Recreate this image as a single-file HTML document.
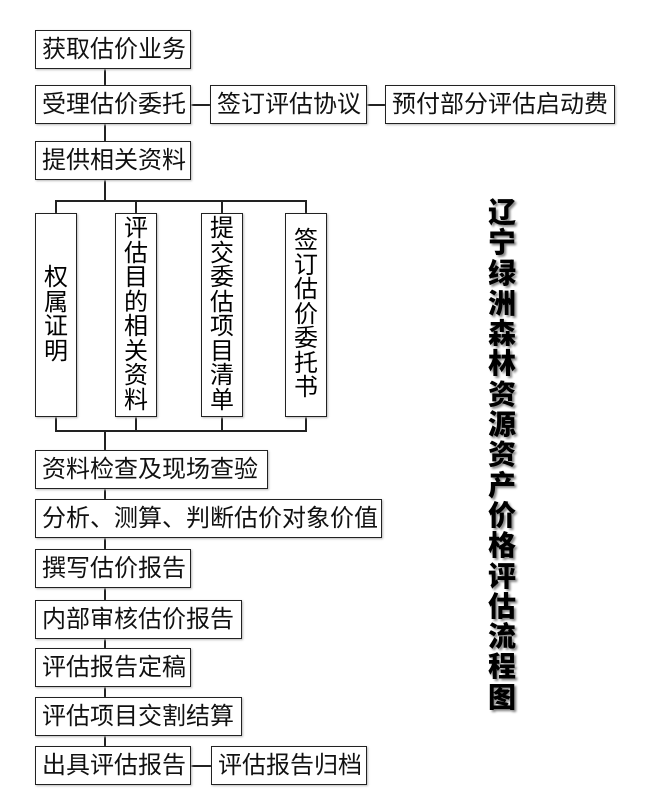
<!DOCTYPE html>
<html><head><meta charset="utf-8"><style>
body{margin:0;width:650px;height:800px;background:#fff;position:relative;overflow:hidden;font-family:"Liberation Sans","Noto Sans CJK SC",sans-serif;}
.b{position:absolute;border:1.5px solid #222;box-sizing:border-box;background:#fff;font-size:24px;line-height:37px;padding-left:6px;white-space:nowrap;color:#111;box-shadow:1px 1px 2px #bbb;}
.v{position:absolute;border:1.5px solid #222;box-sizing:border-box;background:#fff;font-size:24px;line-height:24.5px;text-align:center;display:flex;align-items:center;justify-content:center;box-shadow:1px 1px 2px #bbb;}
.l{position:absolute;background:#222;}
.t{position:absolute;left:482px;top:198px;width:40px;font-size:28px;font-weight:900;line-height:30.3px;text-align:center;color:#000;text-shadow:2px 2px 2px #888;}
</style></head><body>
<div class="l" style="left:104px;top:68px;width:1.5px;height:18px"></div>
<div class="l" style="left:104px;top:123px;width:1.5px;height:18px"></div>
<div class="l" style="left:104px;top:179px;width:1.5px;height:21px"></div>
<div class="l" style="left:55px;top:200px;width:252px;height:1.5px"></div>
<div class="l" style="left:55px;top:200px;width:1.5px;height:14px"></div>
<div class="l" style="left:135px;top:200px;width:1.5px;height:14px"></div>
<div class="l" style="left:221px;top:200px;width:1.5px;height:14px"></div>
<div class="l" style="left:305px;top:200px;width:1.5px;height:14px"></div>
<div class="l" style="left:55px;top:416px;width:1.5px;height:15px"></div>
<div class="l" style="left:135px;top:416px;width:1.5px;height:15px"></div>
<div class="l" style="left:221px;top:416px;width:1.5px;height:15px"></div>
<div class="l" style="left:305px;top:416px;width:1.5px;height:15px"></div>
<div class="l" style="left:55px;top:430px;width:252px;height:1.5px"></div>
<div class="l" style="left:104px;top:430px;width:1.5px;height:350px"></div>
<div class="l" style="left:190px;top:104px;width:22px;height:1.5px"></div>
<div class="l" style="left:366px;top:104px;width:20px;height:1.5px"></div>
<div class="l" style="left:190px;top:765px;width:22px;height:1.5px"></div>
<div class="b" style="left:35px;top:30px;width:156px;height:39px">获取估价业务</div>
<div class="b" style="left:35px;top:85px;width:156px;height:39px">受理估价委托</div>
<div class="b" style="left:210px;top:85px;width:157px;height:39px">签订评估协议</div>
<div class="b" style="left:385px;top:85px;width:230px;height:39px">预付部分评估启动费</div>
<div class="b" style="left:35px;top:141px;width:156px;height:39px">提供相关资料</div>
<div class="v" style="left:35px;top:213px;width:42px;height:204px">权<br>属<br>证<br>明</div>
<div class="v" style="left:115px;top:213px;width:42px;height:204px">评<br>估<br>目<br>的<br>相<br>关<br>资<br>料</div>
<div class="v" style="left:201px;top:213px;width:42px;height:204px">提<br>交<br>委<br>估<br>项<br>目<br>清<br>单</div>
<div class="v" style="left:285px;top:213px;width:42px;height:204px">签<br>订<br>估<br>价<br>委<br>托<br>书</div>
<div class="b" style="left:35px;top:450px;width:233px;height:39px">资料检查及现场查验</div>
<div class="b" style="left:35px;top:499px;width:347px;height:39px">分析、测算、判断估价对象价值</div>
<div class="b" style="left:35px;top:549px;width:156px;height:39px">撰写估价报告</div>
<div class="b" style="left:35px;top:600px;width:207px;height:39px">内部审核估价报告</div>
<div class="b" style="left:35px;top:648px;width:156px;height:39px">评估报告定稿</div>
<div class="b" style="left:35px;top:697px;width:207px;height:39px">评估项目交割结算</div>
<div class="b" style="left:35px;top:746px;width:156px;height:39px">出具评估报告</div>
<div class="b" style="left:211px;top:746px;width:156px;height:39px">评估报告归档</div>
<div class="t">辽<br>宁<br>绿<br>洲<br>森<br>林<br>资<br>源<br>资<br>产<br>价<br>格<br>评<br>估<br>流<br>程<br>图</div>
</body></html>
